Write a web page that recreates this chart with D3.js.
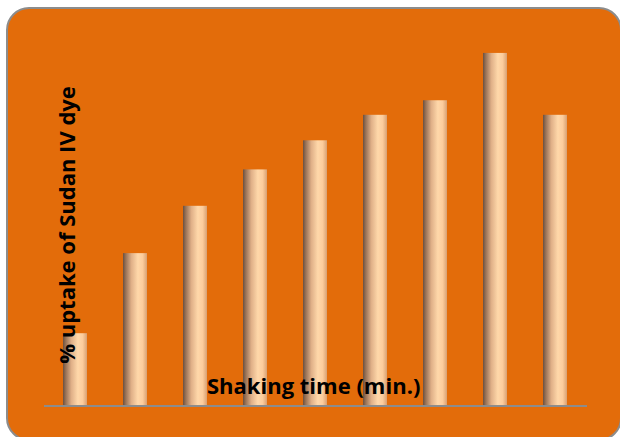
<!DOCTYPE html>
<html><head><meta charset="utf-8">
<script src="https://cdn.jsdelivr.net/npm/d3@7"></script>
<style>html,body{margin:0;padding:0;background:#fff;}svg{display:block;}</style>
</head><body>
<svg id="c" width="620" height="437"></svg>
<script>
const categories = ["5","10","15","20","25","30","35","40","45"];
const uptake = [20, 42, 55, 65, 73, 80, 84, 97, 80];
const yTitle = "% uptake of Sudan IV dye";
const xTitle = "Shaking time (min.)";

const svg = d3.select("#c");
const defs = svg.append("defs");
const g = defs.append("linearGradient").attr("id","cyl").attr("x1","0").attr("x2","1").attr("y1","0").attr("y2","0");
[["0%","#6a5040"],["12%","#9a7458"],["35%","#e0b088"],["62%","#ffd8aa"],["82%","#fccc9c"],["100%","#d8a072"]]
  .forEach(([o,c])=>g.append("stop").attr("offset",o).attr("stop-color",c));

svg.append("rect").attr("x",7).attr("y",8).attr("width",614).attr("height",432)
  .attr("rx",22).attr("ry",22).attr("fill","#e36c0a").attr("stroke","#8c8c8c").attr("stroke-width",2);

const x = d3.scaleBand().domain(categories).range([45,585]).paddingInner(0.6).paddingOuter(0.3);
const y = d3.scaleLinear().domain([0,100]).range([406,42]);

svg.append("g").selectAll("rect").data(uptake).join("rect")
  .attr("x",(d,i)=>x(categories[i])).attr("width",x.bandwidth())
  .attr("y",d=>y(d)).attr("height",d=>y(0)-y(d))
  .attr("fill","url(#cyl)");

const ax = svg.append("g").attr("transform",`translate(0,${y(0)})`)
  .call(d3.axisBottom(x).tickSize(0).tickFormat(""));
ax.select(".domain").attr("stroke","#8c8c8c").attr("stroke-width",2).attr("d","M44,0H587");

svg.append("text").attr("x",207).attr("y",394)
  .attr("font-family","Open Sans, sans-serif").attr("font-weight","bold").attr("font-size",22)
  .attr("fill","#000").text(xTitle);

svg.append("text").attr("transform","translate(75,225) rotate(-90)")
  .attr("text-anchor","middle")
  .attr("font-family","Open Sans, sans-serif").attr("font-weight","bold").attr("font-size",22)
  .attr("fill","#000").text(yTitle);
</script>
</body></html>
